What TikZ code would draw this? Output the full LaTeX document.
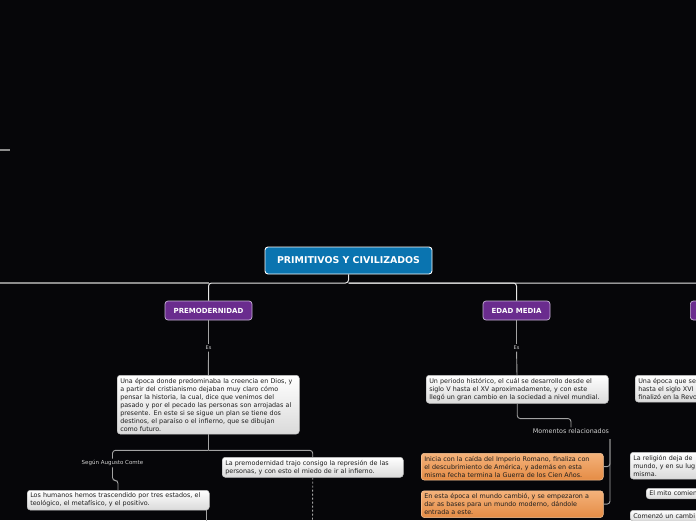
\documentclass[tikz,border=0pt]{standalone}
\usepackage{fontspec}
\usepackage{xcolor}
\setmainfont{DejaVu Sans}
\definecolor{Night}{HTML}{060609}
\definecolor{RootBlue}{HTML}{0A74B0}
\definecolor{Plum}{HTML}{6A2C8E}
\definecolor{PlumEdge}{HTML}{C9B6D8}
\definecolor{PaperTop}{HTML}{FFFFFF}
\definecolor{PaperBot}{HTML}{DADADA}
\definecolor{PaperEdge}{HTML}{BDBDBD}
\definecolor{AmberTop}{HTML}{F4B27A}
\definecolor{AmberBot}{HTML}{E58C45}
\definecolor{AmberEdge}{HTML}{F8C89C}
\definecolor{Ink}{HTML}{1E1E1E}
\definecolor{Wire}{HTML}{A3A3A3}
\definecolor{RootWire}{HTML}{E6E6E6}
\definecolor{BusGray}{HTML}{8C8C8C}
\definecolor{Caption}{HTML}{D0D0D0}
\tikzset{rootbox/.style={rectangle,rounded corners=3pt,draw=white,line width=0.9pt,fill=RootBlue,text=white,font=\bfseries\fontsize{9.4}{11}\selectfont,minimum width=167pt,minimum height=27pt},topic/.style={rectangle,rounded corners=3pt,draw=PlumEdge,line width=0.7pt,fill=Plum,text=white,font=\bfseries\fontsize{7}{8}\selectfont,minimum height=19pt},note/.style={rectangle,rounded corners=3pt,draw=PaperEdge,line width=0.5pt,top color=PaperTop,bottom color=PaperBot,text=Ink,align=left,font=\fontsize{6.4}{8}\selectfont,inner xsep=3pt,inner ysep=2.8pt},event/.style={note,draw=AmberEdge,top color=AmberTop,bottom color=AmberBot},tag/.style={text=Caption,font=\fontsize{5}{6}\selectfont,inner sep=1.5pt},link/.style={draw=Wire,line width=0.9pt,rounded corners=3pt},rootlink/.style={draw=RootWire,line width=1pt,rounded corners=3pt},bus/.style={draw=BusGray,line width=1.6pt},dashlink/.style={draw=Wire,line width=0.9pt,dash pattern=on 2pt off 2pt}}

\begin{document}
\begin{tikzpicture}[x=1pt,y=-1pt]
\useasboundingbox (0,0) rectangle (696,520);\clip (0,0) rectangle (696,520);
\fill[Night] (0,0) rectangle (696,520);
\coordinate (strayA) at (0,150);\coordinate (strayB) at (10,150);\draw[bus] (strayA)--(strayB);
\node[rootbox] (root) at (348.5,260.5) {PRIMITIVOS Y CIVILIZADOS};
\coordinate (busL) at (0,283);
\node[topic,minimum width=87pt] (pre) at (208.5,310.5) {PREMODERNIDAD};\node[topic,minimum width=67pt] (med) at (516.5,310.5) {EDAD MEDIA};\node[topic,minimum width=70pt,anchor=west] (mod) at (690,310.5) {};
\draw[bus] (busL)--(pre.north |- busL);
\draw[rootlink] (root.south)--(root.south |- busL) -| (pre.north);\draw[rootlink] (root.south |- busL) -| (med.north);\draw[rootlink] (root.south |- busL) -| (mod.north);
% premodernidad
\node[tag] (preEs) at (208.5,348) {Es};
\node[note,text width=176pt,anchor=north west] (preDef) at (117,375) {Una época donde predominaba la creencia en Dios, y\\a partir del cristianismo dejaban muy claro cómo\\pensar la historia, la cual, dice que venimos del\\pasado y por el pecado las personas son arrojadas al\\presente. En este si se sigue un plan se tiene dos\\destinos, el paraíso o el infierno, que se dibujan\\como futuro.};
\draw[link] (pre)--(preEs);\draw[link] (preEs)--(preDef);
\node[tag,font=\fontsize{5.5}{6}\selectfont] (comte) at (112.5,463) {Según Augusto Comte};
\node[note,text width=175pt,anchor=north west] (repress) at (222,457) {La premodernidad trajo consigo la represión de las\\personas, y con esto el miedo de ir al infierno.};
\draw[link] (preDef.south)--++(0,16) coordinate (preFork);\draw[link] (preFork) -| (comte.north);\draw[link] (preFork) -| (repress.north);
\node[note,text width=176pt,anchor=north west] (stages) at (27,490) {Los humanos hemos trascendido por tres estados, el\\teológico, el metafísico, y el positivo.};
\coordinate (stagesIn) at (118,490);\draw[link] (comte.south)--++(0,13) -| (stagesIn);
\coordinate (stagesEnd) at (206.5,524);\draw[link] (stages.south -| stagesEnd)--(stagesEnd);
\coordinate (repressEnd) at (312.5,524);\draw[dashlink] (repress.south)--(repressEnd);
% edad media
\node[tag] (medEs) at (516.5,348) {Es};
\node[note,text width=176pt,anchor=north west] (medDef) at (426,375) {Un periodo histórico, el cuál se desarrollo desde el\\siglo V hasta el XV aproximadamente, y con este\\llegó un gran cambio en la sociedad a nivel mundial.};
\draw[link] (med)--(medEs);\draw[link] (medEs)--(medDef);
\node[tag,font=\fontsize{6.4}{7}\selectfont] (moments) at (571,431.5) {Momentos relacionados};
\draw[link] (medDef.south)--++(0,15) -| (moments.north);
\node[event,text width=176pt,anchor=north west] (fall) at (421,453) {Inicia con la caída del Imperio Romano, finaliza con\\el descubrimiento de América, y además en esta\\misma fecha termina la Guerra de los Cien Años.};
\node[event,text width=176pt,anchor=north west] (change) at (421,490.5) {En esta época el mundo cambió, y se empezaron a\\dar as bases para un mundo moderno, dándole\\entrada a este.};
\coordinate (bracket) at (610,439);\draw[link] (bracket) |- (fall.east);\draw[link] (bracket) |- (change.east);
% modernidad
\node[note,text width=176pt,anchor=north west] (modDef) at (635,375) {Una época que se\\hasta el siglo XVI\\finalizó en la Revo};
\node[note,text width=176pt,anchor=north west] (religion) at (630,452) {La religión deja de\\mundo, y en su lug\\misma.};
\node[note,text width=176pt,anchor=north west] (myth) at (646,488) {El mito comien};
\node[note,text width=176pt,anchor=north west] (shift) at (630,510) {Comenzó un cambi};
\end{tikzpicture}
\end{document}
